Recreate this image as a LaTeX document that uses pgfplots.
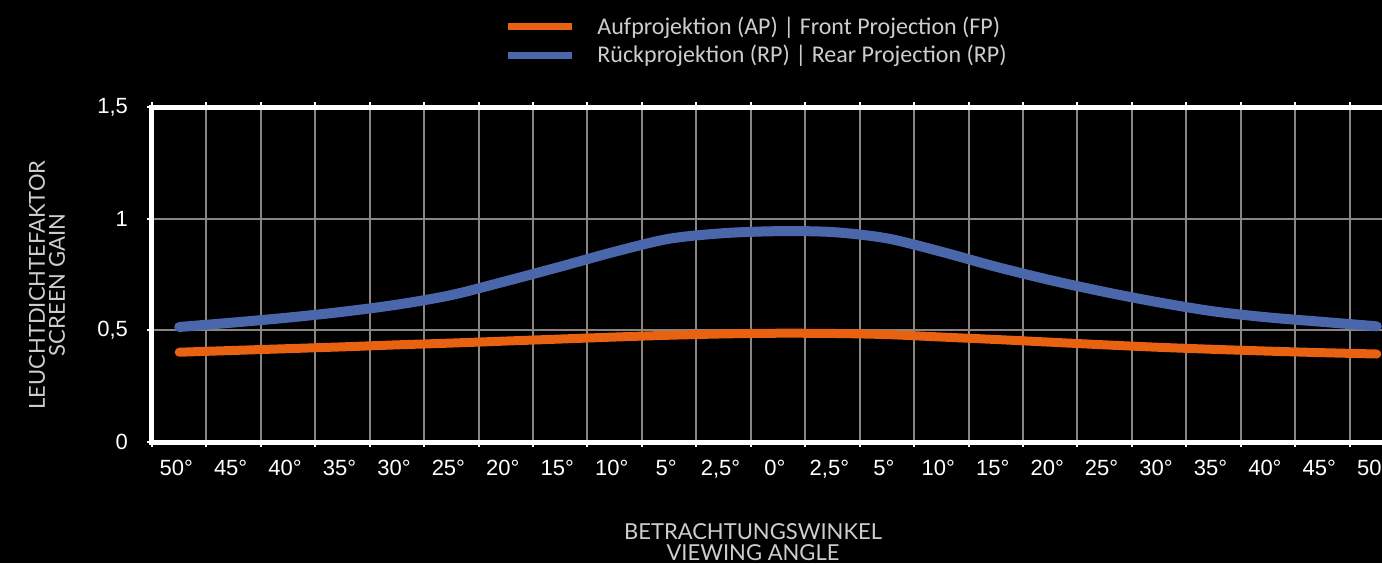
\documentclass[border=0pt]{standalone}
\usepackage{pgfplots}
\pgfplotsset{compat=1.18}
\usepackage{fontspec}
\setmainfont{Liberation Sans}
\newfontfamily\lato{Lato}
\newfontfamily\carl{Carlito}
\definecolor{fpline}{RGB}{232,98,18}
\definecolor{rpline}{RGB}{74,103,172}
\definecolor{gridgray}{RGB}{138,133,128}
\definecolor{labgray}{RGB}{205,205,205}

\begin{document}
\begin{tikzpicture}[x=0.5pt,y=0.5pt]
\fill[black] (0,0) rectangle (1382,563);
\begin{scope}
\clip (0,0) rectangle (1382,563);
\begin{axis}[at={(76pt,60.5pt)}, anchor=south west, scale only axis,
  width=626pt, height=167.5pt,
  xmin=-0.5, xmax=22.5, ymin=0, ymax=1.5,
  xtick={0,...,22},
  xticklabels={50°,45°,40°,35°,30°,25°,20°,15°,10°,5°,{2,5°},0°,{2,5°},5°,10°,15°,20°,25°,30°,35°,40°,45°,50°},
  minor xtick={-0.5,0.5,...,22.5},
  ytick={0,0.5,1,1.5},
  yticklabels={0,{0,5},1,{1,5}},
  xminorgrids, ymajorgrids,
  minor grid style={gridgray, line width=1pt},
  major grid style={gridgray, line width=1pt},
  axis line style={white, line width=2.5pt},
  tick align=outside,
  major tick length=2.5pt, minor tick length=2.5pt,
  major x tick style={draw=none},
  minor x tick style={white, line width=1pt},
  ytick style={white, line width=1pt},
  ticklabel style={font=\fontsize{11}{12}\selectfont, text=white},
  xticklabel style={yshift=-3pt, xshift=-1.5pt},
  yticklabel style={xshift=-6pt},
  legend style={at={(0.2764,1.295)}, anchor=north west, draw=none, fill=none,
    font=\carl\fontsize{12}{13}\selectfont, text=labgray, row sep=0pt, column sep=9pt},
  legend cell align=left,
  legend image code/.code={\draw[#1, line width=3.5pt, line cap=butt, sharp plot] (0pt,0pt) -- (32pt,0pt);},
]
\addplot[fpline, line width=4.5pt, line cap=round, smooth, no markers] coordinates {
(0,0.402) (1,0.410) (2,0.418) (3,0.426) (4,0.435) (5,0.443) (6,0.452) (7,0.461)
(8,0.470) (9,0.478) (10,0.484) (11,0.487) (12,0.486) (13,0.481) (14,0.470)
(15,0.459) (16,0.447) (17,0.435) (18,0.424) (19,0.415) (20,0.407) (21,0.400) (22,0.394)
};
\addlegendentry{Aufprojektion (AP) | Front Projection (FP)}
\addplot[rpline, line width=5pt, line cap=round, smooth, no markers] coordinates {
(0,0.515) (1,0.535) (2,0.557) (3,0.583) (4,0.615) (5,0.658) (6,0.720) (7,0.785)
(8,0.852) (9,0.910) (10,0.935) (11,0.944) (12,0.940) (13,0.912) (14,0.852)
(15,0.785) (16,0.725) (17,0.672) (18,0.625) (19,0.585) (20,0.558) (21,0.538) (22,0.518)
};
\addlegendentry{Rückprojektion (RP) | Rear Projection (RP)}
\end{axis}
\end{scope}
\node[rotate=90, align=center, text=labgray, font=\lato\fontsize{11}{10}\selectfont] at (47,278) {LEUCHTDICHTEFAKTOR\\SCREEN GAIN};
\node[align=center, text=labgray, font=\lato\fontsize{11}{10.5}\selectfont] at (753,21) {BETRACHTUNGSWINKEL\\VIEWING ANGLE};
\pgfresetboundingbox
\useasboundingbox (0,0) rectangle (1382,563);
\end{tikzpicture}
\end{document}
